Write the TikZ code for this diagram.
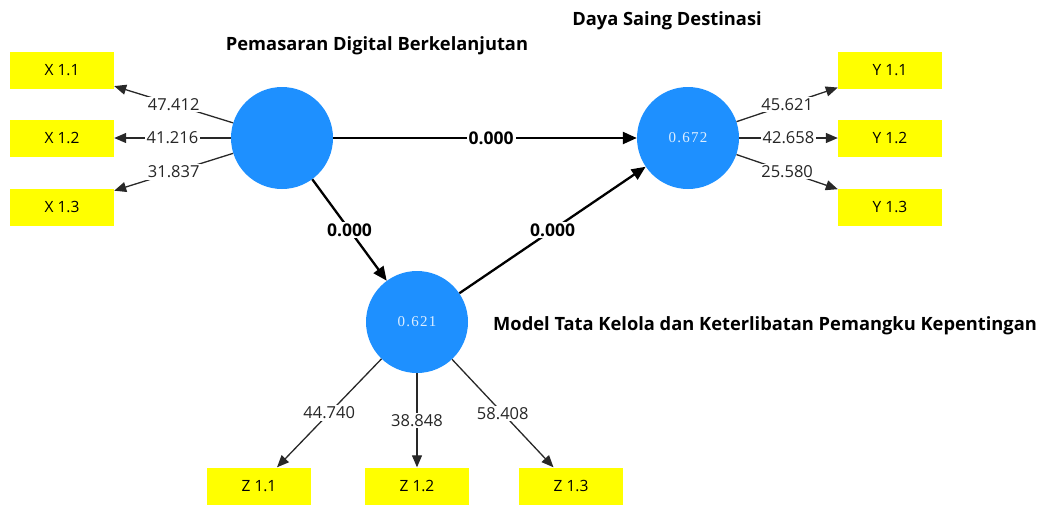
\documentclass[tikz,border=0pt]{standalone}
\usepackage{fontspec}
\setmainfont{Open Sans}
\newfontfamily\circfont[LetterSpace=8]{Liberation Serif}
\usetikzlibrary{arrows.meta}
\definecolor{lvblue}{RGB}{30,144,255}
\definecolor{indyellow}{RGB}{255,255,0}
\definecolor{circtext}{RGB}{220,238,255}
\definecolor{outline}{RGB}{40,40,40}
\tikzset{
  latent/.style={circle, fill=lvblue, minimum size=102pt, inner sep=0pt, text=circtext, font=\circfont\fontsize{15}{15}\selectfont},
  indicator/.style={rectangle, fill=indyellow, minimum width=104pt, minimum height=37pt, inner sep=0pt, font=\fontsize{15.5}{15.5}\selectfont},
  outer/.style={draw=outline, line width=1.3pt, -{Triangle[length=12pt,width=10pt]}},
  inner/.style={draw=black, line width=2.3pt, -{Triangle[length=14pt,width=12pt]}},
  loadlbl/.style={fill=white, inner sep=1.5pt, font=\fontsize{16.5}{16.5}\selectfont, text=black!85},
  pathlbl/.style={fill=white, inner sep=2pt, font=\bfseries\fontsize{17.5}{17.5}\selectfont},
  title/.style={font=\bfseries\fontsize{18.3}{18.3}\selectfont, inner sep=0pt}
}
\begin{document}
\begin{tikzpicture}[x=1pt,y=-1pt]
\useasboundingbox (0,0) rectangle (1040,504);
% latent variables
\node[latent] (X) at (282,138) {};
\node[latent] (Y) at (688,138) {0.672};
\node[latent] (Z) at (417,322) {0.621};
% titles
\node[title] (tX) at (377,46) {Pemasaran Digital Berkelanjutan};
\node[title] (tY) at (667,21) {Daya Saing Destinasi};
\node[title, anchor=west] (tZ) at (493,326) {Model Tata Kelola dan Keterlibatan Pemangku Kepentingan};
% indicators
\node[indicator] (x1) at (62,70) {X 1.1};
\node[indicator] (x2) at (62,138) {X 1.2};
\node[indicator] (x3) at (62,207) {X 1.3};
\node[indicator] (y1) at (890,70) {Y 1.1};
\node[indicator] (y2) at (890,138) {Y 1.2};
\node[indicator] (y3) at (890,207) {Y 1.3};
\node[indicator] (z1) at (259,486) {Z 1.1};
\node[indicator] (z2) at (417,486) {Z 1.2};
\node[indicator] (z3) at (571,486) {Z 1.3};
% outer loadings
\draw[outer] (X) -- node[loadlbl]{47.412} (x1);
\draw[outer] (X) -- node[loadlbl]{41.216} (x2);
\draw[outer] (X) -- node[loadlbl]{31.837} (x3);
\draw[outer] (Y) -- node[loadlbl]{45.621} (y1);
\draw[outer] (Y) -- node[loadlbl]{42.658} (y2);
\draw[outer] (Y) -- node[loadlbl]{25.580} (y3);
\draw[outer] (Z) -- node[loadlbl]{44.740} (z1);
\draw[outer] (Z) -- node[loadlbl]{38.848} (z2);
\draw[outer] (Z) -- node[loadlbl]{58.408} (z3);
% inner paths
\draw[inner] (X) -- node[pathlbl, pos=0.52]{0.000} (Y);
\draw[inner] (X) -- node[pathlbl]{0.000} (Z);
\draw[inner] (Z) -- node[pathlbl]{0.000} (Y);
\end{tikzpicture}
\end{document}
